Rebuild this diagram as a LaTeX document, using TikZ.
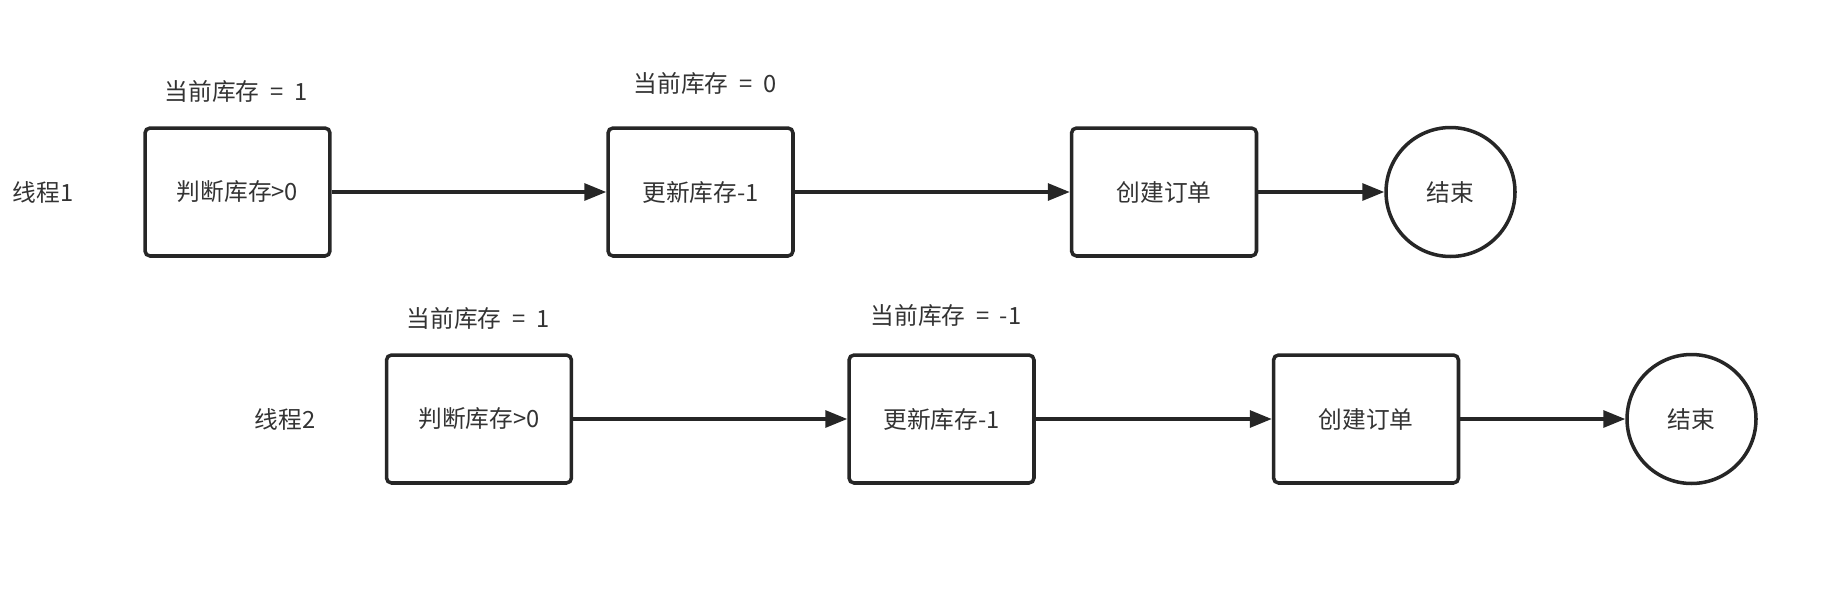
\documentclass[tikz,border=0pt]{standalone}
\usepackage{fontspec}
\newfontfamily\cjk{Noto Sans CJK SC}
\usetikzlibrary{arrows.meta}
\definecolor{linegray}{HTML}{262626}
\definecolor{textgray}{HTML}{333333}
\newcommand{\eqsp}{\hspace{0.45em}}

\begin{document}
\begin{tikzpicture}[x=0.02cm, y=-0.02cm,
    stepbox/.style={draw=linegray, line width=2pt, rounded corners=0.1cm,
        minimum width=3.7cm, minimum height=2.56cm, text=textgray,
        font=\cjk\fontsize{13.5}{16}\selectfont},
    endnode/.style={circle, draw=linegray, line width=2pt, minimum size=2.58cm,
        text=textgray, font=\cjk\fontsize{13.5}{16}\selectfont},
    lbl/.style={text=textgray, font=\cjk\fontsize{13.5}{16}\selectfont},
    flow/.style={draw=linegray, line width=1.8pt,
        -{Triangle[length=0.44cm,width=0.34cm]}}]
            \useasboundingbox (0,0) rectangle (1834,592);

            % thread 1
            \node [lbl] (t1) at (43,192) {线程1};
            \node [stepbox] (check1) at (237.5,192) {判断库存>0};
            \node [stepbox] (dec1) at (700.5,192) {更新库存-1};
            \node [stepbox] (order1) at (1164,192) {创建订单};
            \node [endnode] (end1) at (1450.5,192) {结束};
            \node [lbl] (s1a) at (236,91) {当前库存\eqsp=\eqsp1};
            \node [lbl] (s1b) at (705,83) {当前库存\eqsp=\eqsp0};

            \draw [flow] (check1) -- (dec1);
            \draw [flow] (dec1) -- (order1);
            \draw [flow] (order1) -- (end1);

            % thread 2
            \node [lbl] (t2) at (285,419) {线程2};
            \node [stepbox] (check2) at (479,419) {判断库存>0};
            \node [stepbox] (dec2) at (941.5,419) {更新库存-1};
            \node [stepbox] (order2) at (1366,419) {创建订单};
            \node [endnode] (end2) at (1691.5,419) {结束};
            \node [lbl] (s2a) at (478,318) {当前库存\eqsp=\eqsp1};
            \node [lbl] (s2b) at (946,315) {当前库存\eqsp=\eqsp-1};

            \draw [flow] (check2) -- (dec2);
            \draw [flow] (dec2) -- (order2);
            \draw [flow] (order2) -- (end2);
        \end{tikzpicture}
\end{document}
